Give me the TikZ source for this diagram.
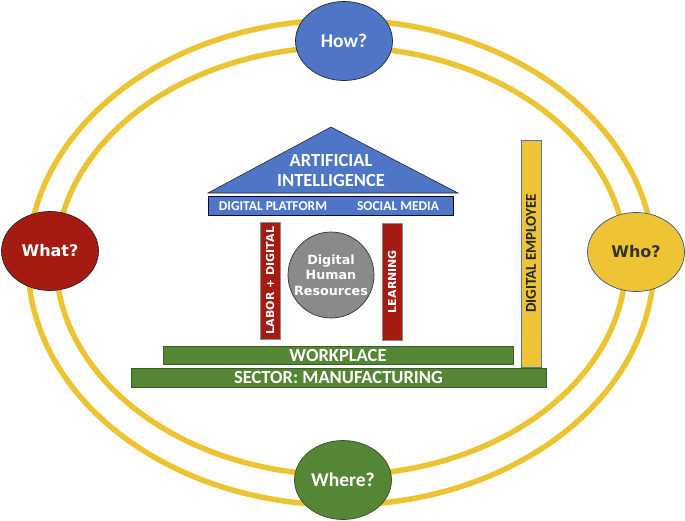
\documentclass[tikz,border=0pt]{standalone}
\usepackage{fontspec}
\setmainfont{Carlito}
\newfontfamily\lucida{DejaVu Sans}
\usetikzlibrary{shapes.geometric}
\definecolor{ring}{RGB}{236,196,50}
\definecolor{bblue}{RGB}{79,118,198}
\definecolor{rred}{RGB}{166,27,17}
\definecolor{ggreen}{RGB}{85,134,54}
\definecolor{yyel}{RGB}{238,196,52}
\definecolor{dgray}{RGB}{138,138,138}
\begin{document}
\begin{tikzpicture}[x=1pt,y=-1pt,
  ringline/.style={draw=ring,line width=5.5pt},
  qnode/.style={ellipse,draw=black!85,line width=0.7pt,minimum width=97pt,minimum height=79pt,inner sep=0pt},
  redpillar/.style={draw=black!45,line width=0.5pt,fill=rred,rotate=90,minimum width=117pt,minimum height=20pt,inner sep=0pt,text=white,font=\lucida\bfseries\fontsize{11}{12}\selectfont},
  greenbar/.style={draw=ggreen!70!black,line width=0.6pt,fill=ggreen,inner sep=0pt,text=white,font=\bfseries\fontsize{18.5}{18.5}\selectfont}]
\useasboundingbox (0,0) rectangle (685,520);
% rings
\draw[ringline] (341,262.5) ellipse [x radius=313, y radius=242.5];
\draw[ringline] (341,261) ellipse [x radius=285, y radius=214];
% question nodes
\node[qnode,fill=bblue,text=white,font=\bfseries\fontsize{19.5}{19.5}\selectfont] (how) at (344,41) {How?};
\node[qnode,fill=ggreen,draw=ggreen!60!black,text=white,font=\bfseries\fontsize{19.5}{19.5}\selectfont] (where) at (343,480) {Where?};
\node[qnode,fill=rred,text=white,font=\lucida\bfseries\fontsize{16}{16}\selectfont] (what) at (50,251) {What?};
\node[qnode,fill=yyel,draw=bblue!70!black,text=black!80,font=\lucida\bfseries\fontsize{16}{16}\selectfont] (who) at (636,252) {Who?};
% roof
\draw[fill=bblue,draw=black!85,line width=0.6pt] (208,193) -- (331,127) -- (458,193) -- cycle;
\node[text=white,align=center,font=\bfseries\fontsize{18.5}{20}\selectfont] (ai) at (331,170) {ARTIFICIAL\\INTELLIGENCE};
\node[draw=black!75!blue,line width=0.6pt,fill=bblue,minimum width=245pt,minimum height=19pt,inner sep=0pt] (band) at (330.5,205.5) {};
\node[text=white,font=\bfseries\fontsize{13.5}{13.5}\selectfont] (dp) at (273,206.5) {DIGITAL PLATFORM};
\node[text=white,font=\bfseries\fontsize{13.5}{13.5}\selectfont] (sm) at (398,206.5) {SOCIAL MEDIA};
% pillars
\node[redpillar] (labor) at (270,280.5) {LABOR + DIGITAL};
\node[redpillar] (learn) at (392,281.5) {LEARNING};
\node[circle,draw=black!80,line width=0.7pt,fill=dgray,minimum size=86pt,inner sep=0pt,align=center,text=white,font=\lucida\bfseries\fontsize{12.7}{15.5}\selectfont] (dhr) at (331,275) {Digital\\Human\\Resources};
% digital employee
\node[draw=bblue,line width=0.7pt,fill=yyel,rotate=90,minimum width=227pt,minimum height=20pt,inner sep=0pt,text=black!85,font=\bfseries\fontsize{15}{15}\selectfont] (de) at (531,253.5) {DIGITAL EMPLOYEE};
% base bars
\node[greenbar,minimum width=350pt,minimum height=18pt] (work) at (338,355) {WORKPLACE};
\node[greenbar,minimum width=415pt,minimum height=19pt] (sector) at (338.5,377.5) {SECTOR: MANUFACTURING};
\end{tikzpicture}
\end{document}
